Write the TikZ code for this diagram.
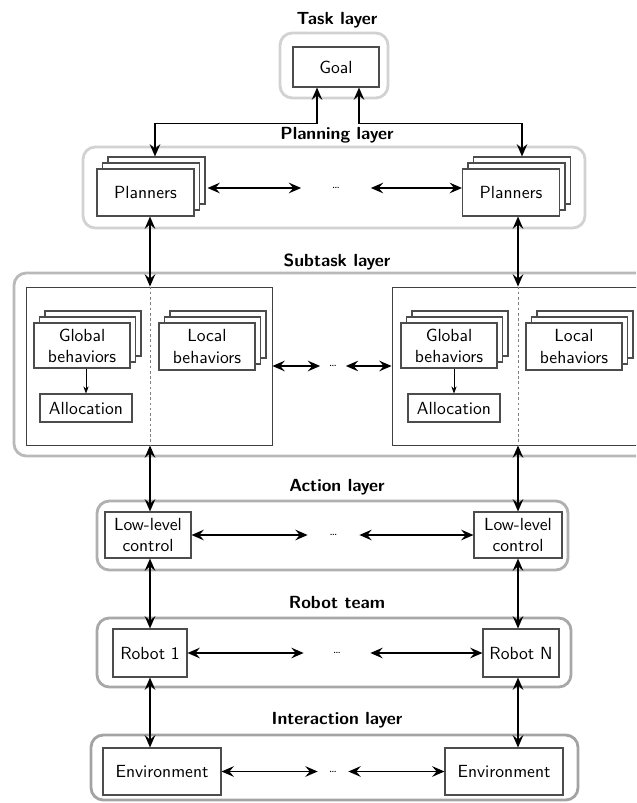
\documentclass[tikz,border=0pt]{standalone}
\usetikzlibrary{shadows,arrows.meta}
\tikzset{
  layerbox/.style={rounded corners=7pt,line width=1.6pt},
  layername/.style={font=\sffamily\bfseries,inner sep=1pt},
  unit/.style={draw=black!70,line width=0.6pt,fill=white,font=\sffamily,align=center,inner sep=1pt},
  stack/.style={unit,double copy shadow={shadow xshift=0.11cm,shadow yshift=0.12cm}},
  link/.style={{Stealth[length=7pt,width=6pt,inset=2.5pt]}-{Stealth[length=7pt,width=6pt,inset=2.5pt]},line width=1.1pt},
  dots/.style={font=\sffamily\scriptsize,inner sep=0pt,minimum height=0.4cm}
}
\begin{document}
\begin{tikzpicture}[x=0.02cm,y=-0.02cm]
\clip (0,0) rectangle (636,803);
\coordinate (colL) at (150,0);
\coordinate (colR) at (518,0);
\draw[layerbox,draw=gray!35] (280,33) rectangle (388,98);
\draw[layerbox,draw=gray!35] (83,147) rectangle (585,228);
\draw[layerbox,draw=gray!55] (14,273) rectangle (650,456);
\draw[layerbox,draw=gray!62] (97,501) rectangle (568,570);
\draw[layerbox,draw=gray!68] (97,618) rectangle (571,687);
\draw[layerbox,draw=gray!72] (91,735) rectangle (578,800);
\node[layername] (tasklbl) at (337,20) {Task layer};
\node[layername] (planlbl) at (337,135) {Planning layer};
\node[layername] (sublbl) at (337,262) {Subtask layer};
\node[layername] (actlbl) at (337,487) {Action layer};
\node[layername] (roblbl) at (337,602) {Robot team};
\node[layername] (intlbl) at (337,720) {Interaction layer};
\node[unit,minimum width=1.72cm,minimum height=0.8cm] (goal) at (336,67) {Goal};
\node[stack,minimum width=1.94cm,minimum height=0.94cm] (planL) at (145.5,192.5) {Planners};
\node[stack,minimum width=1.94cm,minimum height=0.94cm] (planR) at (511,192.5) {Planners};
\node[dots,minimum width=1.38cm] (dotsP) at (336,188) {\dots};
\coordinate (planLtop) at ([xshift=0.19cm,yshift=0.24cm]planL.north);
\coordinate (planRtop) at ([xshift=0.22cm,yshift=0.24cm]planR.north);
\draw[link] ([xshift=-0.38cm]goal.south) |- ([yshift=0.66cm]planLtop) -- (planLtop);
\draw[link] ([xshift=0.46cm]goal.south) |- ([yshift=0.66cm]planRtop) -- (planRtop);
\draw[link] ([xshift=0.26cm,yshift=0.09cm]planL.east) -- (dotsP.west);
\draw[link] (dotsP.east) -- ([yshift=0.09cm]planR.west);
\node[draw=black!75,line width=0.5pt,minimum width=4.92cm,minimum height=3.16cm] (subL) at (149,366) {};
\node[draw=black!75,line width=0.5pt,minimum width=4.92cm,minimum height=3.16cm] (subR) at (515,366) {};
\draw[gray,thin,dash pattern=on 1.5pt off 1.5pt] (subL.north -| colL) -- (subL.south -| colL);
\draw[gray,thin,dash pattern=on 1.5pt off 1.5pt] (subR.north -| colR) -- (subR.south -| colR);
\node[stack,minimum width=1.92cm,minimum height=0.9cm] (globL) at (82,345.5) {Global\\behaviors};
\node[unit,minimum width=1.84cm,minimum height=0.56cm] (allocL) at (86,408) {Allocation};
\node[stack,minimum width=1.92cm,minimum height=0.94cm] (locL) at (207,346.5) {Local\\behaviors};
\node[stack,minimum width=1.92cm,minimum height=0.9cm] (globR) at (449,345.5) {Global\\behaviors};
\node[unit,minimum width=1.84cm,minimum height=0.56cm] (allocR) at (454,408) {Allocation};
\node[stack,minimum width=1.92cm,minimum height=0.94cm] (locR) at (574,346.5) {Local\\behaviors};
\draw[-{Stealth[length=4pt,width=3pt]},thin] (globL.south -| allocL) -- (allocL.north);
\draw[-{Stealth[length=4pt,width=3pt]},thin] (globR.south -| allocR) -- (allocR.north);
\node[dots,minimum width=0.5cm] (dotsS) at (333,366) {\dots};
\draw[link] (subL.east) -- (dotsS.west);
\draw[link] (dotsS.east) -- (subR.west);
\draw[link] (planL.south -| colL) -- (subL.north -| colL);
\draw[link] (planR.south -| colR) -- (subR.north -| colR);
\node[unit,minimum width=1.72cm,minimum height=0.92cm] (lowL) at (148,535) {Low-level\\control};
\node[unit,minimum width=1.76cm,minimum height=0.92cm] (lowR) at (518,535) {Low-level\\control};
\node[dots,minimum width=1.02cm] (dotsA) at (333.5,535) {\dots};
\draw[link] (lowL.east) -- (dotsA.west);
\draw[link] (dotsA.east) -- (lowR.west);
\draw[link] (subL.south -| colL) -- (lowL.north -| colL);
\draw[link] (subR.south -| colR) -- (lowR.north -| colR);
\node[unit,minimum width=1.48cm,minimum height=0.96cm] (rob1) at (150,653) {Robot 1};
\node[unit,minimum width=1.52cm,minimum height=0.96cm] (robN) at (521,653) {Robot N};
\node[dots,minimum width=1.32cm] (dotsR) at (337,653) {\dots};
\draw[link] (rob1.east) -- (dotsR.west);
\draw[link] (dotsR.east) -- (robN.west);
\draw[link] (lowL.south -| colL) -- (rob1.north -| colL);
\draw[link] (lowR.south -| colR) -- (robN.north -| colR);
\node[unit,minimum width=2.36cm,minimum height=0.94cm] (envL) at (162,771.5) {Environment};
\node[unit,minimum width=2.36cm,minimum height=0.94cm] (envR) at (504,771.5) {Environment};
\node[dots,minimum width=0.6cm] (dotsE) at (333,771.5) {\dots};
\draw[link] (envL.east) -- (dotsE.west);
\draw[link] (dotsE.east) -- (envR.west);
\draw[link] (rob1.south -| colL) -- (envL.north -| colL);
\draw[link] (robN.south -| colR) -- (envR.north -| colR);
\end{tikzpicture}
\end{document}
